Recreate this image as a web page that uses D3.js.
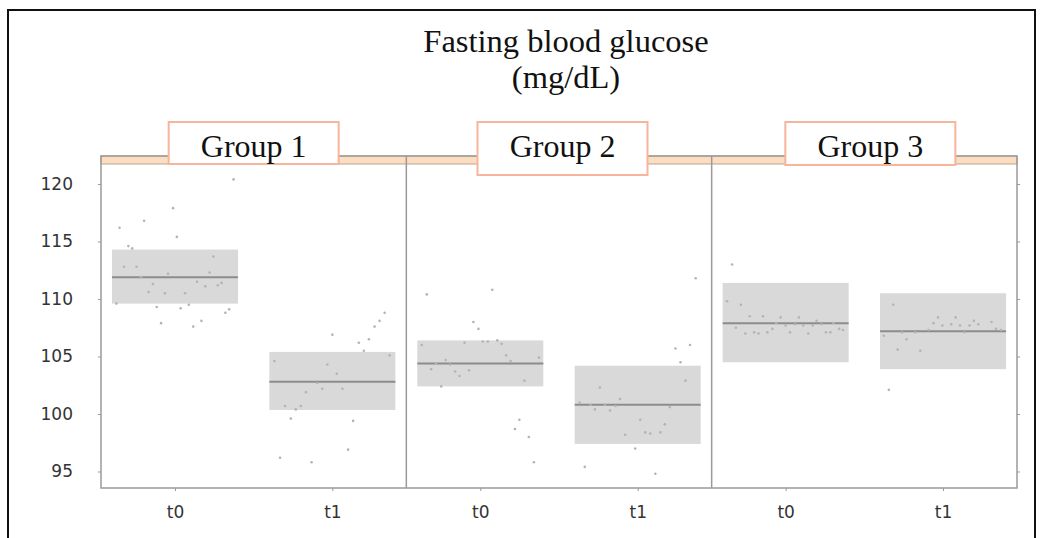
<!DOCTYPE html>
<html>
<head>
<meta charset="utf-8">
<script src="https://cdn.jsdelivr.net/npm/d3@7"></script>
<style>
  body { margin: 0; background: #fff; }
  .ylab text, .xlab text { font-family: "DejaVu Sans", Verdana, sans-serif; font-size: 17px; fill: #333; }
</style>
</head>
<body>
<div id="chart"></div>
<script>
// categories
const groups = ["Group 1", "Group 2", "Group 3"];
const times = ["t0", "t1"];
const yTicks = [95, 100, 105, 110, 115, 120];

// mean and band per group, [t0, t1]
const means = [[111.9, 102.8], [104.4, 100.8], [107.9, 107.2]];
const lower = [[109.6, 100.35], [102.4, 97.4], [104.5, 103.9]];
const upper = [[114.3, 105.4], [106.4, 104.2], [111.4, 110.5]];

// individual points: [value, jitter within the box (-1..1)]
const g1t0 = [[120.4, 0.93], [117.9, -0.03], [116.2, -0.88], [116.8, -0.49], [115.4, 0.03], [114.6, -0.74],
  [114.4, -0.68], [112.8, -0.81], [112.8, -0.61], [111.9, -0.54], [112.2, -0.11], [113.7, 0.61], [112.3, 0.55],
  [111.3, -0.35], [111.5, 0.35], [111.4, 0.74], [111.2, 0.68], [111.1, 0.48], [110.6, -0.42], [110.5, -0.16],
  [110.5, 0.16], [109.6, -0.93], [109.5, 0.22], [109.3, -0.29], [109.2, 0.09], [109.1, 0.86], [108.8, 0.80],
  [107.9, -0.22], [108.1, 0.42], [107.6, 0.29]];
const g1t1 = [[108.8, 0.83], [108.1, 0.75], [107.6, 0.67], [106.9, 0], [106.2, 0.42], [106.5, 0.58], [105.5, 0.5],
  [105.1, 0.91], [104.6, -0.92], [104.3, -0.08], [103.5, 0.07], [102.7, -0.24], [102.2, -0.16], [102.2, 0.16],
  [101.9, -0.42], [100.7, -0.75], [100.7, -0.5], [100.4, -0.58], [99.6, -0.66], [99.4, 0.33], [96.9, 0.25],
  [96.2, -0.83], [95.8, -0.33]];
const g2t0 = [[110.4, -0.85], [110.8, 0.19], [108.0, -0.11], [107.4, -0.03], [106.0, -0.93], [106.2, -0.25],
  [106.3, 0.04], [106.3, 0.12], [106.4, 0.27], [106.1, 0.34], [104.7, -0.55], [105.1, 0.41], [104.6, 0.48],
  [104.9, 0.93], [104.4, -0.7], [104.3, -0.48], [103.9, -0.78], [103.7, -0.4], [103.8, -0.18], [103.3, -0.33],
  [102.9, 0.7], [102.4, -0.62], [99.5, 0.62], [98.7, 0.55], [98.0, 0.77], [95.8, 0.85]];
const g2t1 = [[111.8, 0.92], [106.0, 0.83], [105.7, 0.6], [104.5, 0.68], [102.9, 0.76], [102.3, -0.6],
  [101.3, -0.28], [101.0, -0.92], [100.8, -0.75], [100.8, -0.52], [100.7, -0.35], [100.6, 0.51], [100.4, -0.68],
  [100.3, -0.44], [99.5, 0.04], [99.1, 0.43], [98.4, 0.12], [98.3, 0.2], [98.4, 0.36], [98.2, -0.2], [97.0, -0.04],
  [95.4, -0.84], [94.8, 0.28]];
const g3t0 = [[113.0, -0.85], [109.8, -0.93], [109.5, -0.71], [108.5, -0.57], [108.5, -0.36], [108.4, -0.08],
  [108.4, 0.21], [108.1, 0.49], [107.5, -0.79], [107.0, -0.64], [107.1, -0.5], [107.0, -0.43], [107.1, -0.29],
  [107.4, -0.21], [107.9, -0.15], [107.7, 0], [107.1, 0.07], [107.8, 0.15], [107.7, 0.28], [107.0, 0.36],
  [107.7, 0.43], [107.8, 0.57], [107.1, 0.64], [107.1, 0.71], [107.9, 0.76], [107.4, 0.85], [107.3, 0.91]];
const g3t1 = [[109.5, -0.79], [108.4, -0.08], [108.4, 0.2], [108.1, 0.49], [108.0, 0.77], [107.9, -0.15],
  [107.7, -0.01], [107.8, 0.13], [107.7, 0.27], [107.7, 0.42], [107.8, 0.56], [107.3, -0.23], [107.4, 0.84],
  [107.3, 0.92], [107.1, -0.65], [107.1, -0.44], [107.1, 0.34], [106.8, -0.94], [106.5, -0.58], [105.6, -0.72],
  [105.5, -0.36], [102.1, -0.86]];
const pointSets = [[g1t0, g1t1], [g2t0, g2t1], [g3t0, g3t1]];

const W = 1040, H = 538;
const margin = {top: 164, right: 23, bottom: 50, left: 101};
const width = W - margin.left - margin.right,
    height = H - margin.top - margin.bottom;

const svg = d3.select("#chart")
    .append("svg")
    .attr("width", W)
    .attr("height", H);

// outer frame
svg.append("rect")
    .attr("x", 8).attr("y", 10)
    .attr("width", 1027).attr("height", 540)
    .attr("fill", "none").attr("stroke", "#111").attr("stroke-width", 2);

// title
const title = svg.append("text")
    .attr("text-anchor", "middle")
    .attr("font-family", "'Liberation Serif', 'DejaVu Serif', serif")
    .attr("font-size", 32.5)
    .attr("fill", "#111");
title.append("tspan").attr("x", 566).attr("y", 52).text("Fasting blood glucose");
title.append("tspan").attr("x", 566).attr("y", 88).text("(mg/dL)");

const g = svg.append("g")
    .attr("transform", `translate(${margin.left}, ${margin.top})`);

const y = d3.scaleLinear()
    .domain([93.565, 121.74])
    .range([height, 0]);

const xPanel = d3.scaleBand()
    .domain(groups)
    .range([0, width]);

const x = d3.scalePoint()
    .domain(times)
    .range([0, xPanel.bandwidth()])
    .padding(0.47);

const halfBox = 63;

// left axis with labels
g.append("g")
    .attr("class", "ylab")
    .call(d3.axisLeft(y).tickValues(yTicks).tickSize(3).tickPadding(25).tickFormat(d3.format("d")))
    .call(a => a.select(".domain").remove())
    .call(a => a.selectAll("line").attr("stroke", "#999"));

// right axis, ticks only
g.append("g")
    .attr("transform", `translate(${width}, 0)`)
    .call(d3.axisRight(y).tickValues(yTicks).tickSize(3).tickFormat(""))
    .call(a => a.select(".domain").remove())
    .call(a => a.selectAll("line").attr("stroke", "#999"));

const panels = g.selectAll(".panel")
    .data(groups)
    .enter().append("g")
    .attr("class", "panel")
    .attr("transform", d => `translate(${xPanel(d)}, 0)`);

panels.each(function(grp, gi) {
    const p = d3.select(this);

    p.append("g")
        .attr("class", "xlab")
        .attr("transform", `translate(0, ${height})`)
        .call(d3.axisBottom(x).tickSize(3).tickPadding(15))
        .call(a => a.select(".domain").remove())
        .call(a => a.selectAll("line").attr("stroke", "#999"));

    times.forEach(function(t, ti) {
        const cx = x(t);
        p.append("rect")
            .attr("x", cx - halfBox)
            .attr("width", halfBox * 2)
            .attr("y", y(upper[gi][ti]))
            .attr("height", y(lower[gi][ti]) - y(upper[gi][ti]))
            .attr("fill", "#d9d9d9");
        p.append("line")
            .attr("x1", cx - halfBox).attr("x2", cx + halfBox)
            .attr("y1", y(means[gi][ti])).attr("y2", y(means[gi][ti]))
            .attr("stroke", "#8c8c8c").attr("stroke-width", 2);
        p.selectAll(".dot" + ti)
            .data(pointSets[gi][ti])
            .enter().append("circle")
            .attr("class", "dot" + ti)
            .attr("r", 1.3)
            .attr("cx", d => cx + d[1] * halfBox)
            .attr("cy", d => y(d[0]))
            .attr("fill", "#b4b4b4");
    });
});

// strip across the top
g.append("rect")
    .attr("x", 0).attr("y", -8)
    .attr("width", width).attr("height", 8)
    .attr("fill", "#fddcc0").attr("stroke", "#b5a898").attr("stroke-width", 1);

// panel borders
g.append("rect")
    .attr("x", 0).attr("y", -8)
    .attr("width", width).attr("height", height + 8)
    .attr("fill", "none").attr("stroke", "#9a9a9a").attr("stroke-width", 1.5);
g.selectAll(".divider")
    .data(groups.slice(1))
    .enter().append("line")
    .attr("class", "divider")
    .attr("x1", d => xPanel(d)).attr("x2", d => xPanel(d))
    .attr("y1", -8).attr("y2", height)
    .attr("stroke", "#9a9a9a").attr("stroke-width", 1.5);

// group labels
const labelShift = [0, 3.5, 6];
const labelH = [42, 53, 43];
const labels = g.selectAll(".glab")
    .data(groups)
    .enter().append("g")
    .attr("class", "glab")
    .attr("transform", (d, i) => `translate(${xPanel(d) + xPanel.bandwidth() / 2 + labelShift[i]}, -42)`);

labels.append("rect")
    .attr("x", -85).attr("y", 0)
    .attr("width", 170)
    .attr("height", (d, i) => labelH[i])
    .attr("fill", "#fff")
    .attr("stroke", "#f7b59b")
    .attr("stroke-width", 2);

labels.append("text")
    .attr("text-anchor", "middle")
    .attr("y", 35)
    .attr("font-family", "'Liberation Serif', 'DejaVu Serif', serif")
    .attr("font-size", 32)
    .attr("fill", "#111")
    .text(d => d);
</script>
</body>
</html>
